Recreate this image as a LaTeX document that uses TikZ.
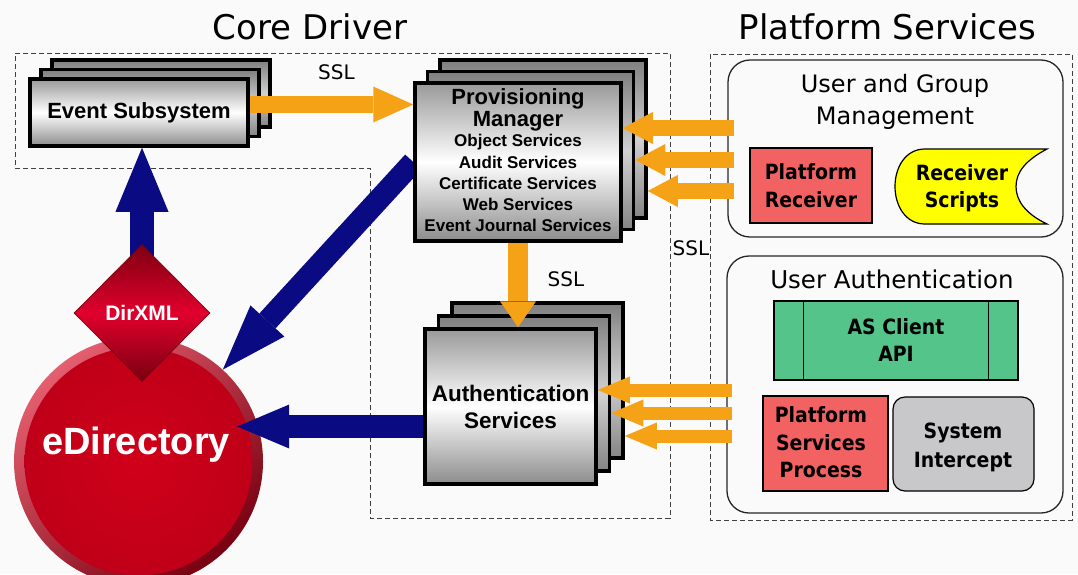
\documentclass[tikz,border=0pt]{standalone}
\usepackage{fontspec}
\setmainfont{DejaVu Sans}
\newfontfamily\arialf{Liberation Sans}
\newfontfamily\condf{DejaVu Sans Condensed}
\usetikzlibrary{arrows.meta,shapes.geometric,calc}
\pgfdeclarelayer{bg}
\pgfsetlayers{bg,main}
\newcommand{\fsz}[2]{\fontsize{#1}{#2}\selectfont}
\definecolor{bgc}{RGB}{250,250,250}
\definecolor{orangeA}{RGB}{246,162,22}
\definecolor{navyA}{RGB}{10,10,130}
\definecolor{redbox}{RGB}{243,98,98}
\definecolor{yellowA}{RGB}{255,255,0}
\definecolor{greenA}{RGB}{84,196,139}
\definecolor{grayA}{RGB}{200,200,202}
\definecolor{edred}{RGB}{208,0,26}
\definecolor{edpink}{RGB}{228,95,112}
\definecolor{eddark}{RGB}{120,0,16}
\definecolor{dxdark}{RGB}{125,0,16}
\definecolor{dxmid}{RGB}{225,0,45}
\tikzset{
  region/.style={draw=black!75, line width=1pt, dash pattern=on 5pt off 3pt},
  frontbox/.style={draw=black, line width=3.5pt, top color=black!40, bottom color=black!45, middle color=white, inner sep=0pt},
  backbox/.style={draw=black, line width=3.5pt, top color=black!50, bottom color=black!48, middle color=black!18, inner sep=0pt},
  oarr/.style n args={3}{draw=orangeA, line width=#1, -{Triangle[length=#2,width=#3,line width=0pt]}},
  barr/.style n args={3}{draw=navyA, line width=#1, -{Triangle[length=#2,width=#3,line width=0pt]}},
  pbox/.style={draw=black, line width=1.2pt, inner sep=0pt},
  grp/.style={draw=black!85, line width=1.3pt, rounded corners=22pt, fill=bgc, inner sep=0pt},
  ssl/.style={font=\fsz{20}{24}},
  core/.style={font=\arialf\bfseries\fsz{22}{26}, align=center}
}
\begin{document}
\begin{tikzpicture}[x=1pt,y=-1pt]
\useasboundingbox (0,0) rectangle (1078,574);

% titles
\node[font=\fsz{34}{40}, anchor=base, inner sep=0pt] (tcore) at (310,39) {Core Driver};
\node[font=\fsz{34}{40}, anchor=base, inner sep=0pt] (tplat) at (887.5,39) {Platform Services};

% eDirectory circle (node for geometry)
\node[circle, minimum size=249pt, inner sep=0pt] (edir) at (138.5,461.5) {};
\node[text=white, font=\arialf\bfseries\fsz{38}{44}] (edtxt) at (136,445) {eDirectory};

% DirXML diamond
\node[diamond, minimum width=136pt, minimum height=137pt, inner sep=0pt, draw=eddark, line width=0.6pt,
      top color=dxdark, bottom color=eddark, middle color=dxmid, text=white,
      font=\arialf\bfseries\fsz{21}{24}] (dirxml) at (142,313) {DirXML};

% Event Subsystem stack
\node[backbox, minimum width=218pt, minimum height=67pt] (ev3) at (161,93.5) {};
\node[backbox, minimum width=218pt, minimum height=67pt] (ev2) at (150,103) {};
\node[frontbox, minimum width=218pt, minimum height=67pt, core] (ev1) at (139,112.5) {Event Subsystem};

% Provisioning Manager stack
\node[backbox, minimum width=206pt, minimum height=158pt] (prov3) at (543,139) {};
\node[backbox, minimum width=206pt, minimum height=158pt] (prov2) at (530.5,150.5) {};
\node[frontbox, minimum width=206pt, minimum height=158pt] (prov1) at (518,162) {};
\node[font=\arialf\bfseries\fsz{22}{22}, align=center] (provt) at (518,110.3) {Provisioning\\Manager};
\node[font=\arialf\bfseries\fsz{17}{21.25}, align=center] (provs) at (518,183.3)
  {Object Services\\Audit Services\\Certificate Services\\Web Services\\Event Journal Services};

% Authentication Services stack
\node[backbox, minimum width=171pt, minimum height=155pt] (auth3) at (537.5,380.5) {};
\node[backbox, minimum width=171pt, minimum height=155pt] (auth2) at (524,393.5) {};
\node[frontbox, minimum width=171pt, minimum height=155pt, font=\arialf\bfseries\fsz{22.5}{27}, align=center] (auth1) at (510.5,406.5) {Authentication\\Services};

% SSL labels
\node[ssl] (ssl1) at (336.5,72) {SSL};
\node[ssl] (ssl2) at (566,279) {SSL};
\node[ssl] (ssl3) at (691,248) {SSL};

% Platform Services groups
\node[grp, minimum width=335pt, minimum height=177pt] (ugm) at (895.5,148.5) {};
\node[font=\fsz{24}{32}, align=center] (ugmt) at (895,102) {User and Group\\Management};
\node[pbox, fill=redbox, minimum width=122pt, minimum height=75pt] (prec) at (811,185.5) {};
\node[font=\condf\bfseries\fsz{21}{28}, align=center] (prect) at (811,185.5) {Platform\\Receiver};
\filldraw[fill=yellowA, draw=black, line width=1.2pt]
  (925,149) -- (1047,149) .. controls (1026,160) and (1016,172) .. (1016,186.5)
  .. controls (1016,201) and (1026,214) .. (1047,224) -- (925,224)
  .. controls (905,224) and (895,205) .. (895,186.5)
  .. controls (895,168) and (905,149) .. (925,149) -- cycle;
\node[font=\condf\bfseries\fsz{21}{27}, align=center] (rscr) at (962,188) {Receiver\\Scripts};

\node[grp, minimum width=336pt, minimum height=257pt] (ua) at (895,384.5) {};
\node[font=\fsz{24.5}{30}, anchor=base, inner sep=0pt] (uat) at (892,288) {User Authentication};
\node[pbox, fill=greenA, minimum width=244pt, minimum height=79pt] (api) at (896,340.5) {};
\draw[line width=1.2pt] ([xshift=30pt]api.north west) -- ([xshift=30pt]api.south west);
\draw[line width=1.2pt] ([xshift=-30pt]api.north east) -- ([xshift=-30pt]api.south east);
\node[font=\condf\bfseries\fsz{21}{27}, align=center] (apit) at (896,340.5) {AS Client\\API};
\node[pbox, fill=redbox, minimum width=125pt, minimum height=95pt] (psp) at (825.5,443.5) {};
\node[font=\condf\bfseries\fsz{21}{27.5}, align=center] (pspt) at (821,442.5) {Platform\\Services\\Process};
\node[pbox, fill=grayA, rounded corners=12pt, minimum width=141pt, minimum height=94pt] (si) at (963.5,444) {};
\node[font=\condf\bfseries\fsz{21}{29}, align=center] (sit) at (963,447) {System\\Intercept};

% orange arrows
\coordinate (evout) at ([yshift=8pt]ev1.east);
\draw[oarr={17pt}{40pt}{36pt}] (evout) -- (evout -| prov1.west);
\draw[oarr={20pt}{26pt}{36pt}] (prov1.south) -- (prov1.south |- auth1.north);
\coordinate (pu1) at (734,128);
\coordinate (pu2) at (734,160);
\coordinate (pu3) at (734,191);
\draw[oarr={16pt}{30pt}{32pt}] (pu1) -- (pu1 -| prov1.east);
\draw[oarr={16pt}{30pt}{32pt}] (pu2) -- (pu2 -| prov2.east);
\draw[oarr={16pt}{30pt}{32pt}] (pu3) -- (pu3 -| prov3.east);
\coordinate (pa1) at (732,390);
\coordinate (pa2) at (732,413);
\coordinate (pa3) at (732,436);
\draw[oarr={13pt}{32pt}{27pt}] (pa1) -- (pa1 -| auth1.east);
\draw[oarr={13pt}{32pt}{27pt}] (pa2) -- (pa2 -| auth2.east);
\draw[oarr={13pt}{32pt}{27pt}] (pa3) -- (pa3 -| auth3.east);

% background layer: page, regions, circle, blue arrows
\begin{pgfonlayer}{bg}
\fill[bgc] (0,0) rectangle (1078,574);
\draw[region] (15,53) -- (670,53) -- (670,518) -- (370,518) -- (370,168) -- (15,168) -- cycle;
\draw[region] (710,54) rectangle (1072,520);
\shade[top color=edpink, bottom color=eddark, shading angle=40] (edir.center) circle[radius=124.5];
\shade[inner color=edred, outer color=edred!92!black] (edir.center) circle[radius=114];
\coordinate (dstart) at ([yshift=-14pt]dirxml.north);
\draw[barr={24pt}{64pt}{53pt}] (dstart) -- (dstart |- ev1.south);
\draw[barr={22pt}{66pt}{46pt}] (prov1.west) -- (edir);
\coordinate (aw) at ([yshift=-20pt]auth1.west);
\coordinate (etip) at ($(aw -| edir.east)+(-26,0)$);
\draw[barr={23pt}{52pt}{44pt}] (aw) -- (etip);
\end{pgfonlayer}
\end{tikzpicture}
\end{document}
